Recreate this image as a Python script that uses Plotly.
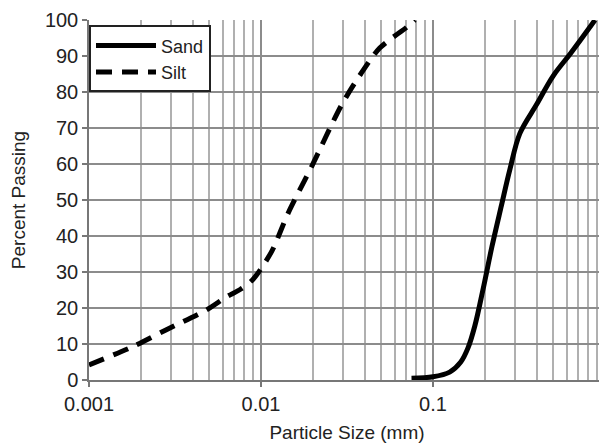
import plotly.graph_objects as go

silt_x = [0.001, 0.0018, 0.0028, 0.0048, 0.0063, 0.0076, 0.009, 0.0115, 0.0144, 0.0197, 0.0294, 0.038, 0.049, 0.0703, 0.0785]
silt_y = [4.2, 9.3, 13.9, 19.4, 23.1, 25.2, 28.0, 35.6, 46.4, 59.3, 76.4, 85.0, 92.2, 98.0, 100.0]

sand_x = [0.075, 0.1, 0.125, 0.145, 0.16, 0.175, 0.195, 0.22, 0.25, 0.28, 0.32, 0.4, 0.5, 0.63, 0.875]
sand_y = [0.5, 0.9, 2.2, 5.0, 9.0, 15.0, 25.0, 37.0, 48.5, 58.5, 68.5, 76.5, 84.5, 90.7, 100.0]

x_tickvals = [0.001, 0.01, 0.1, 1]
x_ticktext = ["0.001", "0.01", "0.1", "1"]
y_tickvals = [0, 10, 20, 30, 40, 50, 60, 70, 80, 90, 100]

FONT = "Liberation Sans, Arial, sans-serif"

fig = go.Figure()
fig.add_trace(go.Scatter(x=sand_x, y=sand_y, mode="lines", name="Sand",
                         line=dict(color="black", width=5, shape="spline", smoothing=1.0)))
fig.add_trace(go.Scatter(x=silt_x, y=silt_y, mode="lines", name="Silt",
                         line=dict(color="black", width=5, dash="16px,10px", shape="spline", smoothing=0.8)))

# page body adds an 8px offset; figure sized to fit the 607x448 window
fig.update_layout(
    width=599, height=440,
    margin=dict(l=81, r=2, t=12, b=68),
    paper_bgcolor="white", plot_bgcolor="white",
    font=dict(family=FONT, size=20, color="#222"),
    showlegend=True,
    legend=dict(x=0.0, y=0.985, xanchor="left", yanchor="top",
                bgcolor="white", bordercolor="#222", borderwidth=2,
                font=dict(size=18), itemwidth=60, entrywidth=130, entrywidthmode="pixels",
                tracegroupgap=0),
    xaxis=dict(type="log", range=[-3, 0], tickvals=x_tickvals, ticktext=x_ticktext,
               automargin=False,
               showgrid=True, gridcolor="#8c8c8c", gridwidth=1.5,
               minor=dict(dtick="D1", showgrid=True, gridcolor="#b0b0b0", gridwidth=1.5, ticklen=0),
               ticks="outside", ticklen=5, tickcolor="#777", tickwidth=1.5,
               showline=True, linecolor="#777", linewidth=1.5,
               title=dict(text="Particle Size (mm)", font=dict(size=19), standoff=12),
               zeroline=False),
    yaxis=dict(range=[0, 100], tickvals=y_tickvals,
               automargin=False,
               showgrid=True, gridcolor="#8c8c8c", gridwidth=1.5,
               ticks="outside", ticklen=5, tickcolor="#777", tickwidth=1.5,
               showline=True, linecolor="#777", linewidth=1.5,
               title=dict(text="Percent Passing", font=dict(size=19), standoff=14),
               zeroline=False),
)

fig.write_html("out.html")
